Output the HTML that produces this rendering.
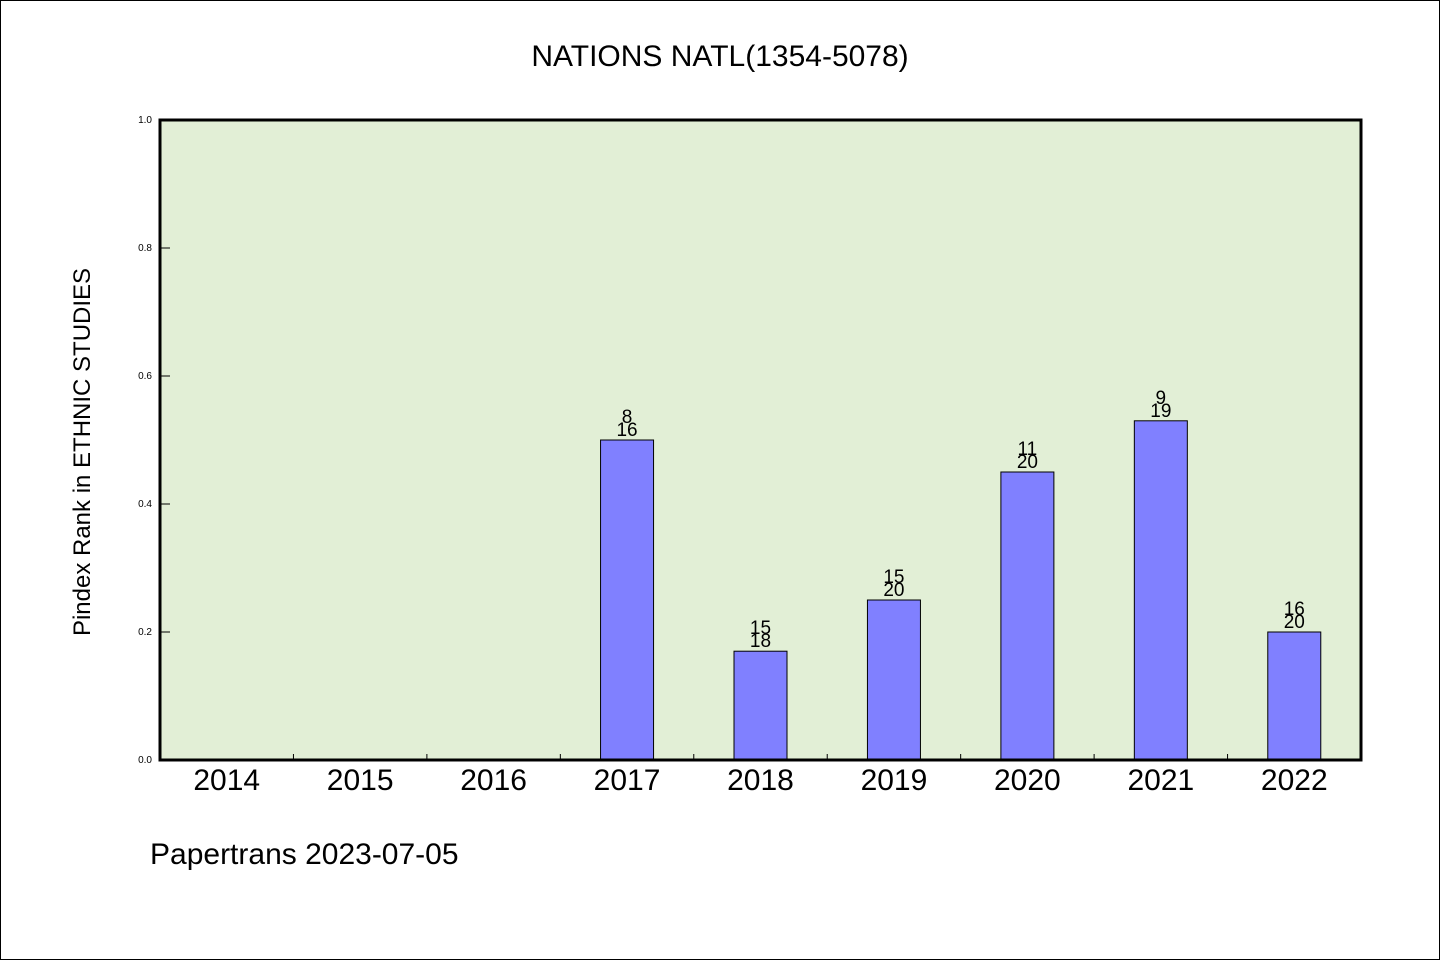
<!DOCTYPE html>
<html><head><meta charset="utf-8"><style>
body{margin:0;background:#fff}
svg{display:block}
text{font-family:"WenQuanYi Zen Hei","Liberation Sans",sans-serif}
</style></head><body>
<svg id="c" width="1440" height="960">
<rect x="0.5" y="0.5" width="1439" height="959" fill="#fff" stroke="#000"/>
<text x="720" y="66" text-anchor="middle" font-size="30">NATIONS NATL(1354-5078)</text>
<text transform="translate(90,452) rotate(-90)" text-anchor="middle" font-size="24">Pindex Rank in ETHNIC STUDIES</text>
<text x="150" y="864" font-size="30">Papertrans 2023-07-05</text>
<rect x="160" y="120" width="1201" height="640" fill="#e2efd6"/>
<g id="marks"></g>
<rect x="160" y="120" width="1201" height="640" fill="none" stroke="#000" stroke-width="3"/>
</svg>
<script>
const categories=["2014","2015","2016","2017","2018","2019","2020","2021","2022"];
const values=[0,0,0,0.5,0.17,0.25,0.45,0.53,0.2];
const topLabels=["","","","8","15","15","11","9","16"];
const bottomLabels=["","","","16","18","20","20","19","20"];
const yTicks=[0,0.2,0.4,0.6,0.8,1.0];
const L=160,R=1361,T=120,B=760;
const bw=(R-L)/categories.length;
const xC=i=>L+bw*(i+0.5);
const yS=v=>B-(B-T)*v;
const NS="http://www.w3.org/2000/svg";
const g=document.getElementById('marks');
function mk(t,a){const e=document.createElementNS(NS,t);for(const k in a)e.setAttribute(k,a[k]);g.appendChild(e);return e;}
yTicks.forEach(v=>{
  const l=mk('line',{x1:L,x2:L+10,y1:yS(v),y2:yS(v),stroke:'#000'});
  
  
  const t=mk('text',{x:L-8,y:yS(v)+3,'text-anchor':'end','font-size':10});
  t.textContent=v.toFixed(1);
  
  
});
categories.forEach((c,i)=>{
  if(i>0){const l=mk('line',{x1:L+bw*i,x2:L+bw*i,y1:B,y2:B-6,stroke:'#000'});
  
  }
  const t=mk('text',{x:xC(i),y:B+30,'text-anchor':'middle','font-size':30});
  t.textContent=c;
  
  
  if(values[i]>0){
    const r=mk('rect',{x:xC(i)-26.5,y:yS(values[i]),width:53,height:B-yS(values[i]),fill:'#8080ff',stroke:'#000','stroke-width':1});
    
    
    const a=mk('text',{x:xC(i),y:yS(values[i])-4,'text-anchor':'middle','font-size':19});
    a.textContent=bottomLabels[i];
    
    
    const b=mk('text',{x:xC(i),y:yS(values[i])-17,'text-anchor':'middle','font-size':19});
    b.textContent=topLabels[i];
    
    
  }
});
</script>
</body></html>
